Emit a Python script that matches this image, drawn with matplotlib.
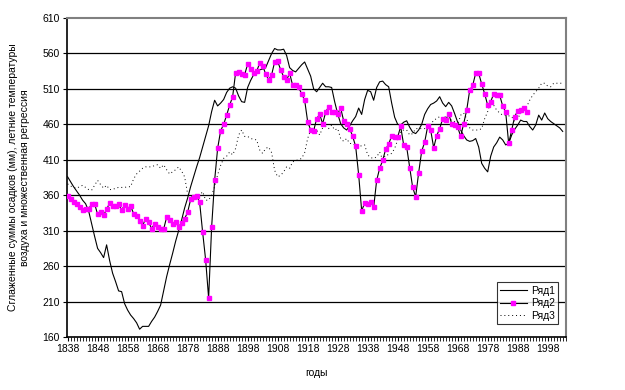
import numpy as np
import matplotlib
matplotlib.use("Agg")
import matplotlib.pyplot as plt
from matplotlib.ticker import MultipleLocator

plt.rcParams['font.family'] = ['Liberation Sans', 'DejaVu Sans']

start_year = 1838

# Ряд1 - solid line, 1838..2003
ryad1 = [386, 379, 372, 366, 360, 353, 348, 338, 320, 302,
         285, 279, 272, 290, 268, 250, 238, 225, 224, 207,
         198, 191, 186, 180, 171, 175, 175, 175, 182, 188,
         196, 205, 225, 245, 262, 278, 295, 310, 325, 342,
         356, 372, 386, 400, 413, 428, 443, 458, 478, 494,
         486, 490, 495, 505, 511, 513, 511, 500, 492, 491,
         512, 522, 530, 535, 537, 538, 540, 550, 560, 567,
         565, 565, 566, 557, 540, 536, 534, 539, 544, 548,
         538, 528, 510, 506, 512, 518, 513, 513, 512, 492,
         475, 461, 455, 452, 458, 465, 471, 483, 474, 495,
         508, 506, 494, 512, 520, 521, 516, 513, 490, 470,
         460, 459, 463, 465, 456, 449, 447, 452, 460, 474,
         482, 488, 490, 493, 499, 490, 485, 491, 486, 475,
         463, 452, 444, 438, 436, 437, 440, 428, 405, 398,
         393, 415, 428, 434, 442, 438, 431, 433, 445, 453,
         459, 466, 464, 464, 457, 452, 459, 473, 466, 476,
         468, 464, 461, 458, 455, 450]

# Ряд2 - magenta markers, 1838..1991
ryad2 = [359, 354, 350, 347, 343, 339, 341, 340, 348, 348,
         333, 336, 332, 340, 349, 345, 345, 347, 339, 346,
         341, 345, 334, 331, 324, 317, 327, 322, 313, 320,
         315, 313, 312, 329, 325, 320, 322, 315, 321, 327,
         336, 354, 357, 359, 350, 308, 269, 215, 315, 381,
         426, 451, 460, 473, 487, 499, 533, 534, 531, 530,
         545, 538, 533, 535, 546, 543, 531, 523, 530, 548,
         549, 537, 527, 523, 532, 515, 516, 512, 503, 494,
         464, 452, 451, 468, 474, 461, 477, 485, 477, 477,
         475, 483, 465, 461, 454, 443, 429, 389, 338, 349,
         347, 351, 343, 381, 398, 409, 425, 432, 444, 442,
         442, 457, 431, 428, 399, 371, 358, 392, 422, 435,
         457, 452, 427, 444, 454, 468, 466, 475, 461, 459,
         456, 443, 461, 480, 508, 515, 532, 532, 517, 503,
         487, 492, 503, 501, 501, 486, 477, 433, 452, 471,
         479, 480, 483, 478]

# Ряд3 - dotted line, 1838..2003
ryad3 = [376, 373, 371, 370, 372, 374, 371, 368, 367, 374,
         381, 375, 370, 374, 368, 368, 370, 371, 371, 371,
         372, 372, 383, 390, 394, 398, 400, 400, 400, 402,
         403, 398, 403, 396, 390, 393, 396, 400, 394, 386,
         362, 358, 357, 358, 360, 365, 353, 353, 360, 372,
         389, 402, 412, 415, 421, 417, 426, 445, 452, 443,
         443, 440, 439, 438, 424, 419, 426, 428, 420, 395,
         386, 388, 393, 400, 398, 407, 409, 410, 412, 420,
         440, 452, 454, 452, 445, 455, 457, 454, 459, 452,
         454, 440, 436, 440, 433, 433, 430, 428, 430, 431,
         417, 413, 412, 414, 421, 410, 417, 417, 419, 426,
         438, 450, 452, 452, 445, 447, 454, 454, 454, 454,
         454, 459, 466, 468, 471, 468, 471, 471, 465, 464,
         459, 473, 476, 468, 455, 452, 452, 452, 454, 468,
         478, 492, 487, 480, 476, 473, 473, 472, 471, 464,
         468, 476, 480, 485, 494, 501, 506, 511, 518, 518,
         514, 513, 518, 518, 518, 518]

tick_years = list(range(1838, 1999, 10))
y_ticks = list(range(160, 611, 50))

yrs1 = np.arange(start_year, start_year + len(ryad1))
yrs2 = np.arange(start_year, start_year + len(ryad2))
yrs3 = np.arange(start_year, start_year + len(ryad3))

fig = plt.figure(figsize=(6.25, 3.9), dpi=100)
ax = fig.add_axes([0.1072, 0.1359, 0.7984, 0.8179])

for y in y_ticks[1:-1]:
    ax.axhline(y, color='black', lw=0.9, zorder=1)

ax.plot(yrs1, ryad1, color='black', lw=0.8, label='Ряд1', zorder=3)
ax.plot(yrs2, ryad2, color='black', lw=0.8, marker='s', markersize=3.2,
        markerfacecolor='#ff00ff', markeredgecolor='#ff00ff', label='Ряд2', zorder=4)
ax.plot(yrs3, ryad3, color='black', lw=0.7, linestyle=(0, (1, 3)), label='Ряд3', zorder=2)

ax.set_xlim(1837.8, 2004.1)
ax.set_ylim(160, 610)
ax.set_xticks(tick_years)
ax.set_xticklabels([str(t) for t in tick_years], fontsize=7.5)
ax.xaxis.set_minor_locator(MultipleLocator(1))
ax.set_yticks(y_ticks)
ax.set_yticklabels([str(t) for t in y_ticks], fontsize=7.5)
ax.tick_params(axis='both', which='major', direction='out', length=3, width=0.8, pad=2)
ax.tick_params(axis='x', which='minor', direction='out', length=3, width=0.6)

ax.spines['left'].set_color('black')
ax.spines['bottom'].set_color('black')
ax.spines['left'].set_linewidth(1.2)
ax.spines['bottom'].set_linewidth(1.2)
ax.spines['top'].set_color('#808080')
ax.spines['right'].set_color('#808080')
ax.spines['top'].set_linewidth(1.5)
ax.spines['right'].set_linewidth(1.5)

ax.set_xlabel('годы', fontsize=7.5, labelpad=10)
ax.set_ylabel('Сглаженные суммы осадков (мм), летние температуры\nвоздуха и множественная регрессия',
              fontsize=7.5, labelpad=9)

leg = ax.legend(loc='lower right', bbox_to_anchor=(0.984, 0.041), borderaxespad=0,
                fontsize=7.5, frameon=True, fancybox=False, handlelength=2.6,
                borderpad=0.3, labelspacing=0.25, handletextpad=0.4)
leg.get_frame().set_edgecolor('black')
leg.get_frame().set_linewidth(0.8)

fig.savefig('out.png', dpi=100)
